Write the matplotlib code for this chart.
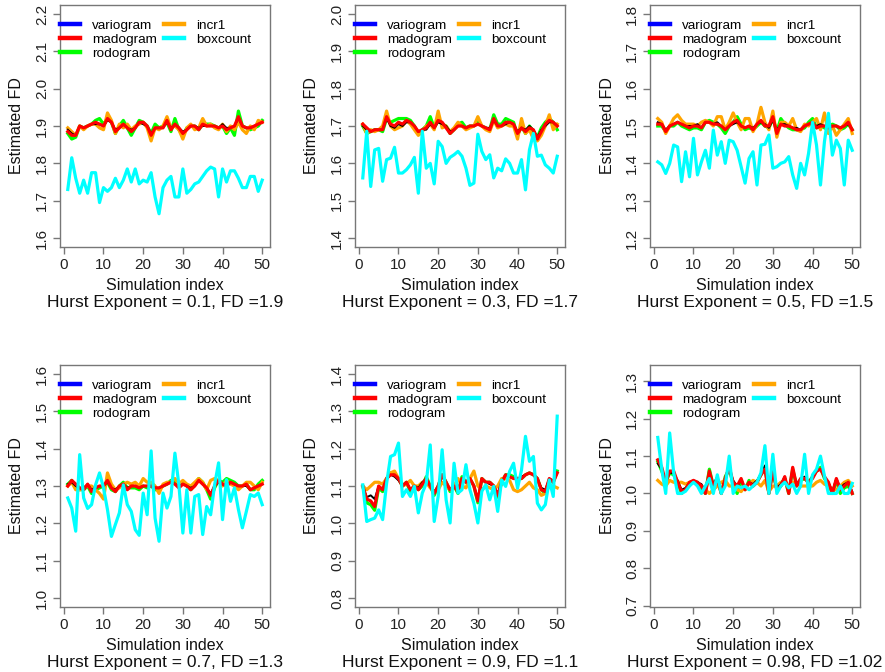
import matplotlib
matplotlib.use("Agg")
import matplotlib.pyplot as plt
from matplotlib.lines import Line2D
import numpy as np

plt.rcParams['font.family'] = ['Liberation Sans', 'DejaVu Sans']

sim_index = list(range(1, 51))
hurst = [0.1, 0.3, 0.5, 0.7, 0.9, 0.98]
true_fd = [1.9, 1.7, 1.5, 1.3, 1.1, 1.02]
fd_labels = ["1.9", "1.7", "1.5", "1.3", "1.1", "1.02"]
h_labels = ["0.1", "0.3", "0.5", "0.7", "0.9", "0.98"]

# ---- Panel 1 (H = 0.1) ----
vario1 = [1.89,1.88,1.875,1.90,1.895,1.90,1.905,1.905,1.905,1.90,1.915,1.91,1.89,1.895,1.905,1.895,1.89,1.895,1.91,1.905,1.90,1.88,1.895,1.895,1.895,1.91,1.895,1.905,1.895,1.885,1.89,1.90,1.90,1.895,1.90,1.90,1.90,1.90,1.895,1.905,1.895,1.895,1.90,1.92,1.90,1.895,1.895,1.90,1.905,1.91]
mado1 = [1.885,1.875,1.875,1.90,1.895,1.90,1.905,1.91,1.905,1.90,1.92,1.91,1.885,1.895,1.905,1.895,1.885,1.895,1.91,1.91,1.90,1.875,1.895,1.895,1.895,1.915,1.89,1.905,1.895,1.88,1.89,1.90,1.90,1.89,1.905,1.90,1.90,1.90,1.895,1.90,1.89,1.895,1.90,1.925,1.90,1.895,1.895,1.90,1.905,1.91]
rodo1 = [1.88,1.865,1.87,1.90,1.895,1.90,1.905,1.915,1.92,1.905,1.92,1.91,1.88,1.90,1.915,1.895,1.875,1.895,1.915,1.91,1.90,1.88,1.905,1.895,1.90,1.91,1.885,1.92,1.89,1.875,1.895,1.90,1.90,1.89,1.905,1.905,1.905,1.90,1.895,1.90,1.88,1.895,1.875,1.94,1.90,1.895,1.89,1.895,1.90,1.915]
incr1_1 = [1.895,1.885,1.875,1.90,1.89,1.90,1.905,1.905,1.895,1.89,1.935,1.915,1.88,1.905,1.895,1.905,1.89,1.90,1.905,1.91,1.895,1.86,1.895,1.89,1.90,1.925,1.895,1.90,1.89,1.865,1.895,1.905,1.89,1.895,1.92,1.90,1.905,1.895,1.89,1.905,1.885,1.90,1.89,1.91,1.89,1.88,1.90,1.89,1.915,1.91]
box1 = [1.73,1.815,1.76,1.72,1.755,1.72,1.775,1.775,1.695,1.735,1.725,1.735,1.76,1.735,1.755,1.785,1.75,1.785,1.745,1.755,1.75,1.775,1.71,1.665,1.735,1.755,1.765,1.71,1.71,1.785,1.72,1.73,1.745,1.75,1.765,1.78,1.79,1.785,1.71,1.785,1.75,1.78,1.78,1.76,1.735,1.735,1.765,1.765,1.725,1.755]

# ---- Panel 2 (H = 0.3) ----
vario2 = [1.70,1.69,1.685,1.69,1.69,1.69,1.72,1.70,1.695,1.705,1.70,1.71,1.71,1.70,1.685,1.69,1.69,1.705,1.695,1.71,1.705,1.70,1.685,1.69,1.70,1.70,1.695,1.70,1.70,1.705,1.70,1.695,1.695,1.715,1.70,1.70,1.705,1.71,1.705,1.685,1.695,1.69,1.70,1.69,1.67,1.69,1.70,1.71,1.71,1.70]
mado2 = [1.705,1.695,1.685,1.69,1.69,1.69,1.725,1.705,1.70,1.71,1.705,1.715,1.71,1.70,1.685,1.69,1.695,1.71,1.695,1.715,1.71,1.695,1.68,1.69,1.70,1.70,1.695,1.70,1.70,1.705,1.70,1.695,1.69,1.72,1.70,1.70,1.71,1.71,1.705,1.68,1.695,1.685,1.695,1.69,1.665,1.685,1.705,1.715,1.71,1.70]
rodo2 = [1.70,1.68,1.685,1.69,1.69,1.685,1.72,1.71,1.715,1.72,1.72,1.72,1.715,1.70,1.68,1.69,1.70,1.725,1.695,1.715,1.705,1.70,1.68,1.69,1.705,1.71,1.695,1.70,1.70,1.71,1.70,1.695,1.69,1.73,1.705,1.705,1.72,1.715,1.71,1.675,1.70,1.68,1.70,1.685,1.67,1.695,1.71,1.72,1.71,1.69]
incr1_2 = [1.705,1.68,1.69,1.685,1.69,1.70,1.74,1.70,1.69,1.695,1.70,1.715,1.705,1.69,1.675,1.685,1.70,1.705,1.69,1.74,1.695,1.70,1.685,1.695,1.71,1.70,1.69,1.695,1.70,1.725,1.70,1.69,1.685,1.715,1.695,1.70,1.705,1.70,1.70,1.665,1.72,1.68,1.69,1.665,1.66,1.675,1.70,1.73,1.69,1.705]
box2 = [1.561,1.686,1.538,1.636,1.64,1.552,1.61,1.614,1.643,1.574,1.574,1.583,1.596,1.616,1.52,1.686,1.587,1.60,1.545,1.659,1.645,1.60,1.616,1.623,1.632,1.619,1.587,1.541,1.547,1.678,1.632,1.61,1.623,1.561,1.587,1.58,1.612,1.60,1.574,1.574,1.61,1.529,1.636,1.68,1.619,1.622,1.596,1.587,1.574,1.619]

# ---- Panel 3 (H = 0.5) ----
vario3 = [1.51,1.505,1.49,1.50,1.505,1.51,1.505,1.50,1.50,1.50,1.505,1.495,1.51,1.51,1.505,1.51,1.50,1.49,1.50,1.505,1.51,1.50,1.495,1.50,1.495,1.505,1.51,1.505,1.495,1.515,1.49,1.505,1.505,1.50,1.495,1.495,1.49,1.50,1.505,1.505,1.50,1.505,1.50,1.495,1.50,1.50,1.495,1.50,1.505,1.49]
mado3 = [1.505,1.505,1.485,1.50,1.505,1.51,1.505,1.50,1.495,1.50,1.50,1.495,1.51,1.51,1.505,1.505,1.50,1.49,1.50,1.51,1.515,1.50,1.495,1.50,1.49,1.505,1.515,1.50,1.50,1.525,1.48,1.505,1.50,1.50,1.495,1.49,1.49,1.50,1.505,1.51,1.495,1.50,1.50,1.495,1.50,1.50,1.495,1.50,1.51,1.49]
rodo3 = [1.50,1.50,1.485,1.50,1.50,1.51,1.50,1.495,1.49,1.495,1.495,1.49,1.51,1.515,1.51,1.505,1.495,1.48,1.50,1.51,1.525,1.505,1.49,1.495,1.49,1.50,1.51,1.50,1.495,1.52,1.485,1.52,1.505,1.495,1.49,1.49,1.49,1.495,1.51,1.52,1.495,1.50,1.495,1.49,1.505,1.50,1.49,1.495,1.505,1.49]
incr1_3 = [1.52,1.51,1.48,1.50,1.52,1.53,1.515,1.505,1.505,1.505,1.50,1.51,1.515,1.51,1.50,1.525,1.525,1.49,1.51,1.535,1.51,1.49,1.52,1.52,1.485,1.505,1.55,1.51,1.49,1.54,1.47,1.51,1.51,1.50,1.52,1.49,1.485,1.505,1.50,1.51,1.52,1.49,1.535,1.48,1.50,1.475,1.49,1.505,1.52,1.48]
box3 = [1.404,1.396,1.373,1.40,1.449,1.444,1.351,1.431,1.364,1.467,1.369,1.404,1.435,1.387,1.489,1.422,1.458,1.40,1.462,1.458,1.435,1.391,1.347,1.413,1.431,1.342,1.449,1.451,1.476,1.387,1.391,1.40,1.404,1.418,1.369,1.333,1.40,1.369,1.427,1.51,1.449,1.342,1.458,1.534,1.422,1.462,1.44,1.342,1.462,1.435]

# ---- Panel 4 (H = 0.7) ----
vario4 = [1.305,1.31,1.30,1.295,1.295,1.305,1.29,1.295,1.30,1.30,1.31,1.295,1.29,1.30,1.305,1.295,1.30,1.30,1.295,1.30,1.30,1.30,1.295,1.295,1.30,1.305,1.31,1.305,1.30,1.305,1.30,1.295,1.30,1.315,1.305,1.295,1.28,1.30,1.31,1.305,1.30,1.31,1.305,1.30,1.30,1.30,1.29,1.295,1.30,1.305]
mado4 = [1.30,1.315,1.305,1.295,1.29,1.305,1.285,1.295,1.30,1.30,1.315,1.295,1.285,1.30,1.305,1.29,1.30,1.30,1.295,1.30,1.30,1.30,1.295,1.295,1.30,1.305,1.31,1.305,1.295,1.305,1.30,1.29,1.30,1.315,1.305,1.295,1.275,1.30,1.315,1.305,1.30,1.31,1.305,1.30,1.30,1.305,1.29,1.295,1.30,1.305]
rodo4 = [1.305,1.315,1.30,1.29,1.29,1.30,1.28,1.29,1.295,1.30,1.31,1.29,1.285,1.30,1.31,1.295,1.295,1.295,1.29,1.30,1.295,1.30,1.29,1.29,1.30,1.305,1.315,1.31,1.30,1.31,1.30,1.29,1.305,1.32,1.31,1.29,1.265,1.295,1.315,1.31,1.32,1.315,1.31,1.30,1.30,1.305,1.29,1.29,1.305,1.315]
incr1_4 = [1.30,1.31,1.29,1.29,1.295,1.30,1.30,1.29,1.28,1.265,1.335,1.305,1.29,1.295,1.305,1.31,1.305,1.31,1.30,1.32,1.31,1.31,1.30,1.28,1.305,1.31,1.31,1.32,1.305,1.315,1.305,1.30,1.31,1.32,1.31,1.29,1.315,1.32,1.315,1.30,1.315,1.305,1.30,1.29,1.30,1.31,1.31,1.30,1.29,1.31]
box4 = [1.268,1.241,1.179,1.384,1.268,1.24,1.25,1.303,1.335,1.295,1.237,1.165,1.197,1.228,1.303,1.25,1.232,1.183,1.168,1.281,1.223,1.394,1.214,1.152,1.281,1.241,1.272,1.388,1.303,1.174,1.29,1.174,1.272,1.277,1.17,1.245,1.223,1.303,1.362,1.21,1.317,1.259,1.295,1.237,1.188,1.232,1.277,1.272,1.281,1.25]

# ---- Panel 5 (H = 0.9) ----
vario5 = [1.10,1.07,1.075,1.065,1.10,1.09,1.12,1.13,1.125,1.115,1.10,1.11,1.09,1.10,1.095,1.11,1.12,1.10,1.085,1.10,1.125,1.11,1.09,1.10,1.09,1.12,1.11,1.12,1.10,1.065,1.115,1.11,1.105,1.10,1.08,1.11,1.13,1.125,1.12,1.12,1.125,1.13,1.135,1.13,1.12,1.095,1.09,1.12,1.115,1.135]
mado5 = [1.10,1.065,1.06,1.045,1.10,1.09,1.12,1.13,1.13,1.12,1.10,1.11,1.09,1.10,1.09,1.105,1.12,1.10,1.08,1.10,1.13,1.11,1.09,1.10,1.085,1.12,1.11,1.12,1.10,1.06,1.12,1.11,1.11,1.10,1.075,1.11,1.13,1.125,1.12,1.12,1.12,1.13,1.135,1.13,1.12,1.09,1.085,1.12,1.11,1.135]
rodo5 = [1.10,1.055,1.05,1.035,1.095,1.085,1.12,1.135,1.13,1.12,1.10,1.11,1.085,1.10,1.09,1.10,1.125,1.10,1.075,1.10,1.13,1.11,1.085,1.10,1.08,1.125,1.11,1.12,1.10,1.055,1.12,1.11,1.11,1.10,1.07,1.11,1.13,1.13,1.125,1.12,1.12,1.13,1.135,1.13,1.12,1.09,1.08,1.115,1.11,1.14]
incr1_5 = [1.10,1.09,1.10,1.11,1.11,1.105,1.12,1.135,1.14,1.12,1.10,1.105,1.115,1.10,1.10,1.11,1.11,1.095,1.085,1.09,1.11,1.10,1.09,1.10,1.12,1.10,1.095,1.12,1.14,1.10,1.09,1.10,1.095,1.09,1.10,1.12,1.12,1.115,1.09,1.085,1.09,1.10,1.11,1.095,1.09,1.075,1.08,1.10,1.10,1.095]
box5 = [1.103,1.005,1.01,1.014,1.036,1.01,1.107,1.179,1.184,1.215,1.072,1.09,1.072,1.099,1.028,1.081,1.107,1.21,1.005,1.072,1.197,1.063,1.001,1.161,1.081,1.09,1.157,1.09,1.054,1.001,1.086,1.103,1.063,1.099,1.032,1.116,1.099,1.139,1.161,1.094,1.143,1.233,1.166,1.179,1.054,1.036,1.05,1.116,1.072,1.287]

# ---- Panel 6 (H = 0.98) ----
vario6 = [1.08,1.065,1.035,1.055,1.055,1.035,1.01,1.015,1.03,1.035,1.03,1.025,1.005,1.055,1.025,1.045,1.005,1.04,1.065,1.035,1.02,1.035,1.015,1.03,1.025,1.035,1.05,1.075,1.005,1.06,1.015,1.025,1.045,1.005,1.065,1.025,1.04,1.045,1.03,1.045,1.06,1.065,1.045,1.03,1.005,1.04,1.015,1.025,1.03,1.005]
mado6 = [1.09,1.07,1.03,1.06,1.06,1.03,1.005,1.01,1.03,1.035,1.03,1.02,1.0,1.06,1.02,1.04,1.0,1.04,1.07,1.03,1.02,1.04,1.01,1.03,1.02,1.03,1.05,1.065,1.0,1.06,1.01,1.02,1.045,1.0,1.07,1.02,1.04,1.04,1.03,1.04,1.06,1.065,1.045,1.03,1.0,1.04,1.01,1.02,1.03,1.0]
rodo6 = [1.085,1.06,1.03,1.055,1.05,1.03,1.0,1.01,1.025,1.03,1.03,1.015,1.0,1.065,1.02,1.04,1.0,1.045,1.065,1.025,1.0,1.035,1.01,1.035,1.02,1.03,1.05,1.07,1.0,1.06,1.01,1.02,1.04,1.0,1.065,1.02,1.035,1.04,1.03,1.045,1.06,1.07,1.04,1.025,1.0,1.035,1.0,1.015,1.02,1.0]
incr1_6 = [1.035,1.025,1.02,1.035,1.03,1.03,1.03,1.025,1.03,1.03,1.025,1.02,1.01,1.0,1.01,1.02,1.03,1.035,1.02,1.02,1.01,1.005,1.02,1.025,1.035,1.03,1.02,1.035,1.005,1.02,1.02,1.03,1.03,1.02,1.03,1.03,1.02,1.02,1.02,1.02,1.03,1.035,1.025,1.02,1.01,1.01,1.02,1.03,1.035,1.02]
box6 = [1.15,1.065,1.0,1.162,1.056,1.0,1.0,1.006,1.02,1.03,1.02,1.0,1.02,1.04,1.0,1.05,1.0,1.02,1.10,1.0,1.02,1.015,1.02,1.01,1.02,1.03,1.055,1.128,1.0,1.105,1.0,1.02,1.03,1.015,1.025,1.0,1.02,1.105,1.0,1.05,1.065,1.10,1.047,1.0,1.0,1.0,1.02,1.0,1.0,1.027]

varios = [vario1, vario2, vario3, vario4, vario5, vario6]
mados = [mado1, mado2, mado3, mado4, mado5, mado6]
rodos = [rodo1, rodo2, rodo3, rodo4, rodo5, rodo6]
incr1s = [incr1_1, incr1_2, incr1_3, incr1_4, incr1_5, incr1_6]
boxes = [box1, box2, box3, box4, box5, box6]

legend_labels = ["variogram", "madogram", "rodogram", "incr1", "boxcount"]
legend_colors = ["#0000FF", "#FF0000", "#00FF00", "#FFA500", "#00FFFF"]

W, H = 885, 672
fig = plt.figure(figsize=(W / 100, H / 100), dpi=100)

col_left = [60, 355, 650]
row_top = [5, 365]
box_w, box_h = 210, 242
frame_col = "#777777"

for k in range(6):
    r, c = divmod(k, 3)
    left = col_left[c] / W
    bottom = (H - (row_top[r] + box_h)) / H
    ax = fig.add_axes([left, bottom, box_w / W, box_h / H])

    fd = true_fd[k]
    lo, hi = fd - 0.3, fd + 0.3
    pad_y = 0.04 * (hi - lo)
    y0, y1 = lo - pad_y, hi + pad_y
    ax.set_ylim(y0, y1)
    ax.set_xlim(1 - 0.04 * 49, 50 + 0.04 * 49)

    x = sim_index
    ax.plot(x, rodos[k], color="#00FF00", lw=2.3, solid_joinstyle="round")
    ax.plot(x, incr1s[k], color="#FFA500", lw=2.3, solid_joinstyle="round")
    ax.plot(x, varios[k], color="black", lw=1.4, solid_joinstyle="round")
    ax.plot(x, mados[k], color="#FF0000", lw=2.3, solid_joinstyle="round")
    ax.plot(x, boxes[k], color="#00FFFF", lw=2.3, solid_joinstyle="round")

    ax.set_xticks([0, 10, 20, 30, 40, 50])
    t_start = int(np.ceil(y0 * 10 - 1e-9))
    t_end = int(np.floor(y1 * 10 + 1e-9))
    yt = [t / 10 for t in range(t_start, t_end + 1)]
    ax.set_yticks(yt)
    ax.set_yticklabels([f"{v:.1f}" for v in yt], rotation=90, va="center")

    for s in ax.spines.values():
        s.set_color(frame_col)
        s.set_linewidth(1.0)
    ax.tick_params(direction="out", length=5, width=1, color=frame_col,
                   labelsize=11, labelcolor="#222222", pad=3)

    ax.set_xlabel("Simulation index", fontsize=11.5, color="#111111")
    ax.xaxis.label.set_verticalalignment("center")
    ax.xaxis.set_label_coords(0.5, -38 / box_h)
    ax.set_ylabel("Estimated FD", fontsize=11.5, color="#111111")
    ax.yaxis.label.set_verticalalignment("center")
    ax.yaxis.set_label_coords(-43 / box_w, 0.5)

    ax.text(0.5, -55 / box_h,
            f"Hurst Exponent = {h_labels[k]}, FD ={fd_labels[k]}",
            transform=ax.transAxes, ha="center", va="center",
            fontsize=12.5, color="#111111")

    handles = [Line2D([], [], color=col, lw=3.2) for col in legend_colors]
    ax.legend(handles, legend_labels, ncol=2, loc="upper left",
              bbox_to_anchor=(0.0, 0.94), frameon=False, fontsize=9.7,
              handlelength=1.5, handletextpad=0.9, columnspacing=0.5,
              labelspacing=0.12, borderpad=0.0, borderaxespad=0.0)

fig.savefig("out.png", dpi=100)
